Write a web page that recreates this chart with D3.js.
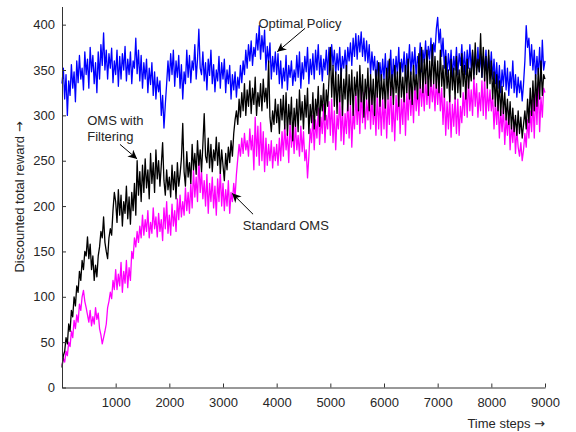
<!DOCTYPE html>
<html>
<head>
<meta charset="utf-8">
<script src="https://cdn.jsdelivr.net/npm/d3@7"></script>
<style>
  body { margin: 0; background: #fff; }
  svg { display: block; font-family: "Liberation Sans", Arial, Helvetica, sans-serif; }
</style>
</head>
<body>
<div id="chart"></div>
<script>
// values, one every 25 time steps (t = 0 ... 9000)
const step = 25

const optimal = [
  335, 352, 318, 345, 300, 338, 322, 356, 330, 348, 315, 360, 336, 366, 340, 352, 328, 370, 345, 362,
  330, 375, 348, 366, 335, 358, 325, 370, 340, 378, 355, 391, 350, 372, 340, 368, 352, 374, 336, 360,
  345, 372, 332, 365, 340, 368, 350, 376, 338, 362, 345, 370, 335, 360, 352, 385, 346, 372, 338, 366,
  330, 358, 340, 362, 325, 352, 334, 358, 322, 348, 318, 342, 326, 338, 300, 322, 286, 312, 335, 360,
  338, 368, 345, 372, 332, 360, 342, 366, 330, 356, 318, 348, 335, 372, 342, 366, 336, 360, 350, 378,
  340, 362, 395, 352, 345, 370, 338, 358, 328, 362, 344, 372, 335, 356, 326, 350, 338, 365, 330, 358,
  340, 362, 325, 350, 335, 355, 318, 345, 328, 348, 320, 342, 330, 355, 336, 360, 345, 372, 352, 378,
  360, 382, 355, 375, 365, 390, 372, 399, 362, 388, 370, 394, 350, 376, 358, 380, 340, 365, 348, 370,
  345, 368, 335, 360, 330, 352, 338, 366, 328, 355, 342, 360, 333, 350, 338, 366, 342, 370, 330, 358,
  340, 365, 348, 375, 335, 362, 345, 368, 340, 372, 350, 378, 345, 366, 338, 362, 350, 372, 345, 375,
  350, 378, 355, 372, 345, 368, 350, 375, 342, 365, 352, 372, 348, 375, 360, 380, 355, 385, 365, 390,
  362, 388, 370, 392, 365, 385, 360, 382, 358, 378, 345, 370, 350, 365, 335, 360, 342, 358, 338, 362,
  340, 368, 335, 360, 345, 372, 332, 362, 340, 365, 345, 375, 338, 362, 348, 370, 340, 368, 352, 378,
  345, 370, 350, 375, 342, 365, 355, 380, 348, 372, 358, 382, 350, 376, 362, 385, 355, 380, 370, 395,
  408, 380, 395, 365, 385, 352, 372, 345, 368, 350, 372, 342, 365, 350, 375, 345, 368, 355, 378, 348,
  370, 345, 372, 352, 378, 350, 370, 345, 365, 352, 375, 348, 368, 342, 365, 350, 372, 345, 366, 348,
  370, 340, 362, 335, 358, 330, 355, 325, 350, 332, 360, 328, 352, 322, 348, 330, 360, 325, 345, 320,
  342, 325, 338, 316, 335, 360, 399, 375, 385, 355, 378, 350, 372, 340, 365, 345, 375, 338, 383, 350,
  360
]

const filtering = [
  22, 35, 40, 55, 48, 70, 62, 85, 78, 100, 90, 112, 105, 128, 118, 140, 130, 150, 145, 166,
  142, 158, 130, 145, 118, 135, 122, 145, 155, 172, 165, 188, 160, 150, 142, 165, 175, 168, 195, 215,
  205, 182, 218, 190, 212, 178, 205, 192, 222, 186, 210, 180, 215, 195, 225, 190, 250, 212, 238, 205,
  245, 215, 252, 220, 240, 208, 258, 225, 248, 215, 262, 230, 250, 222, 245, 270, 228, 212, 240, 218,
  232, 210, 245, 218, 238, 208, 248, 222, 235, 252, 291, 238, 222, 260, 232, 248, 225, 268, 240, 258,
  235, 272, 245, 262, 238, 268, 302, 255, 248, 275, 242, 268, 238, 262, 250, 276, 245, 270, 236, 262,
  245, 228, 258, 240, 265, 248, 272, 255, 280, 295, 305, 290, 318, 298, 325, 305, 335, 300, 328, 310,
  338, 302, 330, 312, 342, 300, 325, 310, 335, 305, 340, 315, 330, 308, 360, 298, 282, 305, 290, 318,
  292, 312, 280, 318, 295, 322, 285, 325, 278, 312, 290, 320, 272, 308, 288, 318, 282, 328, 295, 315,
  285, 322, 298, 330, 280, 312, 292, 325, 285, 318, 300, 332, 288, 322, 305, 335, 295, 328, 310, 340,
  375, 320, 355, 310, 348, 302, 345, 315, 352, 300, 340, 318, 355, 305, 345, 312, 350, 300, 342, 322,
  348, 305, 355, 315, 345, 298, 340, 318, 352, 305, 345, 312, 340, 300, 350, 320, 358, 310, 345, 318,
  340, 308, 352, 318, 362, 322, 345, 312, 355, 325, 348, 310, 358, 320, 342, 315, 355, 325, 362, 318,
  348, 312, 355, 328, 345, 318, 368, 330, 375, 325, 362, 335, 372, 322, 360, 332, 378, 335, 365, 330,
  360, 325, 372, 332, 355, 320, 365, 330, 350, 315, 362, 328, 352, 318, 365, 325, 350, 320, 368, 332,
  355, 318, 362, 330, 352, 338, 372, 340, 380, 345, 362, 348, 390, 342, 375, 338, 365, 330, 372, 335,
  360, 318, 348, 310, 345, 305, 338, 300, 332, 302, 325, 295, 318, 290, 315, 285, 308, 282, 300, 278,
  305, 280, 298, 275, 290, 305, 285, 318, 292, 330, 300, 338, 305, 345, 310, 352, 318, 360, 322, 345,
  340
]

const standard = [
  24, 32, 28, 40, 35, 50, 45, 62, 55, 74, 65, 80, 72, 92, 85, 100, 107, 95, 88, 80,
  72, 85, 68, 78, 70, 88, 75, 82, 65, 58, 48, 55, 62, 70, 88, 95, 105, 98, 118, 108,
  130, 108, 125, 112, 138, 105, 128, 115, 140, 110, 132, 118, 150, 142, 165, 155, 172, 160, 178, 165,
  190, 168, 185, 172, 195, 165, 182, 170, 198, 175, 188, 166, 192, 172, 185, 162, 198, 175, 205, 170,
  190, 168, 202, 178, 195, 172, 208, 185, 212, 188, 205, 190, 220, 195, 215, 192, 225, 198, 240, 210,
  232, 205, 255, 215, 238, 208, 228, 200, 235, 192, 225, 205, 232, 198, 222, 190, 230, 205, 238, 200,
  225, 195, 218, 200, 228, 192, 215, 205, 225, 210, 235, 252, 268, 255, 275, 258, 280, 262, 272, 255,
  285, 262, 278, 240, 298, 255, 288, 245, 292, 250, 282, 238, 275, 245, 268, 250, 272, 242, 265, 250,
  268, 245, 275, 250, 282, 255, 290, 262, 280, 248, 294, 265, 285, 258, 292, 262, 278, 255, 288, 260,
  282, 250, 262, 231, 255, 285, 270, 300, 262, 295, 275, 308, 268, 298, 280, 312, 270, 300, 285, 315,
  278, 318, 270, 305, 262, 300, 285, 322, 272, 310, 268, 302, 280, 318, 275, 312, 265, 305, 285, 325,
  290, 318, 280, 330, 292, 325, 285, 318, 295, 330, 285, 322, 290, 312, 278, 325, 285, 318, 278, 320,
  285, 325, 275, 318, 290, 335, 282, 315, 272, 322, 295, 330, 280, 318, 290, 332, 278, 325, 295, 335,
  300, 328, 292, 338, 305, 330, 300, 340, 310, 335, 305, 342, 312, 338, 308, 340, 315, 335, 305, 340,
  312, 338, 305, 330, 290, 325, 278, 315, 285, 322, 276, 312, 288, 320, 280, 318, 278, 310, 292, 325,
  300, 335, 298, 340, 305, 328, 300, 342, 310, 335, 298, 325, 305, 338, 300, 342, 296, 330, 305, 328,
  305, 322, 285, 315, 290, 318, 275, 305, 282, 310, 268, 298, 278, 305, 262, 290, 270, 295, 258, 285,
  265, 255, 270, 250, 262, 280, 265, 295, 275, 305, 282, 318, 275, 325, 290, 335, 282, 320, 298, 330,
  325
]

const xTicks = [1000, 2000, 3000, 4000, 5000, 6000, 7000, 8000, 9000]
const yTicks = [0, 50, 100, 150, 200, 250, 300, 350, 400]

const series = [
  { name: "Optimal Policy", values: optimal, color: "#0000ff" },
  { name: "Standard OMS", values: standard, color: "#ff00ff" },
  { name: "OMS with Filtering", values: filtering, color: "#000000" }
]

// annotation text and arrows, in data coordinates
const notes = [
  { lines: ["Optimal Policy"], tx: 4435, ty: 401, anchor: "middle", from: [4530, 396], to: [4010, 370] },
  { lines: ["OMS with", "Filtering"], tx: 470, ty: 294, anchor: "start", from: [1080, 268], to: [1400, 252] },
  { lines: ["Standard OMS"], tx: 3370, ty: 179, anchor: "start", from: [3560, 191], to: [3170, 214] }
]

const width = 576
const height = 432

const x = d3.scaleLinear().domain([0, 9000]).range([62, 545])
const y = d3.scaleLinear().domain([0, 420]).range([387.5, 6.5])

const svg = d3.select("#chart")
  .append("svg")
  .attr("width", width)
  .attr("height", height)

svg.append("defs").append("marker")
  .attr("id", "head")
  .attr("viewBox", "0 0 10 10")
  .attr("refX", 10)
  .attr("refY", 5)
  .attr("markerWidth", 9)
  .attr("markerHeight", 9)
  .attr("markerUnits", "userSpaceOnUse")
  .attr("orient", "auto")
  .append("path")
  .attr("d", "M0,0 L10,5 L0,10 L3,5 Z")
  .attr("fill", "#000")

const line = d3.line()
  .x((d, i) => x(i * step))
  .y(d => y(d))

svg.append("g")
  .selectAll("path")
  .data(series)
  .enter().append("path")
  .attr("d", d => line(d.values))
  .attr("fill", "none")
  .attr("stroke", d => d.color)
  .attr("stroke-width", 1.3)
  .attr("stroke-linejoin", "round")

const xAxis = svg.append("g")
  .attr("transform", `translate(0,${y(0)})`)
  .call(d3.axisBottom(x).tickValues(xTicks).tickSizeInner(-4).tickSizeOuter(0).tickPadding(10).tickFormat(d3.format("d")))

const yAxis = svg.append("g")
  .attr("transform", `translate(${x(0)},0)`)
  .call(d3.axisLeft(y).tickValues(yTicks).tickSizeInner(-4).tickSizeOuter(0).tickPadding(7))

for (const ax of [xAxis, yAxis]) {
  ax.select(".domain").attr("stroke", "#333")
  ax.selectAll(".tick line").attr("stroke", "#333")
  ax.selectAll(".tick text").attr("fill", "#262626").style("font-size", "13px")
  ax.attr("font-family", null)
}

const xLabel = svg.append("text")
  .attr("x", 545)
  .attr("y", 428)
  .attr("text-anchor", "end")
  .attr("fill", "#262626")
  .style("font-size", "13px")
xLabel.append("tspan").text("Time steps ")
xLabel.append("tspan").style("font-family", "DejaVu Sans").text("\u2192")

const yLabel = svg.append("text")
  .attr("transform", `translate(24,${(y(0) + y(420)) / 2}) rotate(-90)`)
  .attr("text-anchor", "middle")
  .attr("fill", "#262626")
  .style("font-size", "13px")
yLabel.append("tspan").text("Discounted total reward ")
yLabel.append("tspan").style("font-family", "DejaVu Sans").text("\u2192")

const note = svg.append("g")
  .selectAll("g")
  .data(notes)
  .enter().append("g")

note.append("line")
  .attr("x1", d => x(d.from[0]))
  .attr("y1", d => y(d.from[1]))
  .attr("x2", d => x(d.to[0]))
  .attr("y2", d => y(d.to[1]))
  .attr("stroke", "#000")
  .attr("stroke-width", 1)
  .attr("marker-end", "url(#head)")

note.append("text")
  .attr("x", d => x(d.tx))
  .attr("y", d => y(d.ty))
  .attr("text-anchor", d => d.anchor)
  .attr("fill", "#262626")
  .style("font-size", "13px")
  .selectAll("tspan")
  .data(d => d.lines.map(l => ({ l, tx: d.tx })))
  .enter().append("tspan")
  .attr("x", d => x(d.tx))
  .attr("dy", (d, i) => i === 0 ? "0.35em" : "1.2em")
  .text(d => d.l)
</script>
</body>
</html>
